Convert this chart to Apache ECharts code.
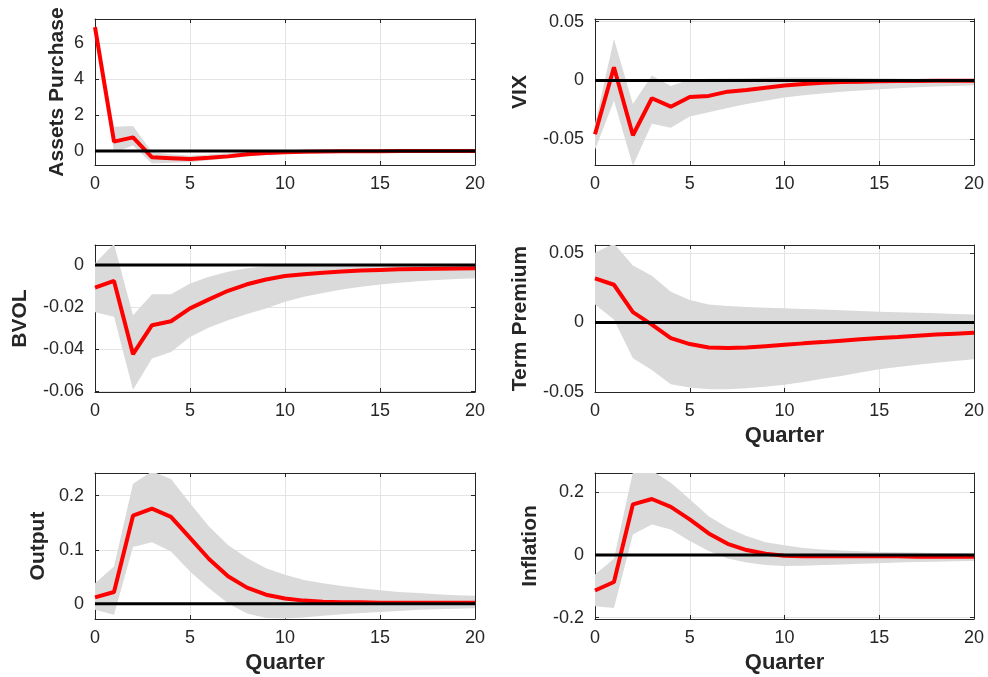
<!DOCTYPE html>
<html>
<head>
<meta charset="utf-8">
<title>Impulse responses</title>
<script src="https://cdn.jsdelivr.net/npm/echarts@6/dist/echarts.min.js"></script>
<style>
  html, body { margin: 0; padding: 0; background: #ffffff; }
  #chart { width: 988px; height: 677px; }
</style>
</head>
<body>
<div id="chart"></div>
<script>
// Horizon (quarters after the shock)
const quarters = [0, 1, 2, 3, 4, 5, 6, 7, 8, 9, 10, 11, 12, 13, 14, 15, 16, 17, 18, 19, 20];

// Assets Purchase: median response and credible band
const assetsMedian = [6.9, 0.52, 0.76, -0.35, -0.40, -0.45, -0.38, -0.30, -0.18, -0.11, -0.07, -0.04, -0.03, -0.02, -0.01, -0.01, 0, 0, 0, 0, 0];
const assetsLower  = [6.85, -0.09, 0.30, -0.69, -0.66, -0.62, -0.52, -0.42, -0.30, -0.22, -0.15, -0.11, -0.08, -0.06, -0.05, -0.04, -0.03, -0.03, -0.02, -0.02, -0.02];
const assetsUpper  = [6.95, 1.35, 1.39, -0.05, -0.18, -0.26, -0.20, -0.13, -0.06, -0.02, 0.01, 0.02, 0.02, 0.02, 0.02, 0.02, 0.02, 0.02, 0.02, 0.02, 0.02];

// VIX
const vixMedian = [-0.0458, 0.0112, -0.0466, -0.0151, -0.0223, -0.0140, -0.0131, -0.0095, -0.0081, -0.0061, -0.0042, -0.0030, -0.0020, -0.0014, -0.0010, -0.0007, -0.0005, -0.0004, -0.0003, -0.0002, -0.0002];
const vixLower  = [-0.059, -0.0173, -0.0725, -0.0369, -0.0402, -0.0307, -0.0271, -0.0235, -0.0201, -0.0173, -0.0145, -0.0125, -0.0110, -0.0095, -0.0085, -0.0075, -0.0066, -0.0058, -0.0051, -0.0046, -0.0041];
const vixUpper  = [-0.037, 0.0352, -0.0201, 0.0042, -0.0047, 0.0008, 0.0014, 0.0017, 0.0020, 0.0024, 0.0026, 0.0026, 0.0025, 0.0023, 0.0021, 0.0019, 0.0017, 0.0015, 0.0013, 0.0011, 0.0010];

// BVOL
const bvolMedian = [-0.0108, -0.0076, -0.0425, -0.0287, -0.0268, -0.0207, -0.0164, -0.0123, -0.0092, -0.0069, -0.0053, -0.0044, -0.0037, -0.0031, -0.0027, -0.0024, -0.0021, -0.0019, -0.0018, -0.0017, -0.0016];
const bvolLower  = [-0.0225, -0.0247, -0.0594, -0.0446, -0.0414, -0.0343, -0.0298, -0.0263, -0.0234, -0.0207, -0.0175, -0.0152, -0.0133, -0.0117, -0.0104, -0.0093, -0.0085, -0.0078, -0.0072, -0.0067, -0.0063];
const bvolUpper  = [0.0008, 0.0100, -0.0239, -0.0139, -0.0139, -0.0088, -0.0056, -0.0032, -0.0016, -0.0006, -0.0002, 0.0000, 0.0002, 0.0003, 0.0003, 0.0003, 0.0003, 0.0003, 0.0002, 0.0002, 0.0002];

// Term Premium
const termMedian = [0.0318, 0.0272, 0.0075, -0.0015, -0.0112, -0.0155, -0.0180, -0.0184, -0.0180, -0.0170, -0.0160, -0.0150, -0.0141, -0.0131, -0.0121, -0.0112, -0.0104, -0.0095, -0.0087, -0.0080, -0.0073];
const termLower  = [0.0130, 0.0022, -0.0257, -0.0342, -0.0444, -0.0468, -0.0480, -0.0480, -0.0473, -0.0462, -0.0447, -0.0428, -0.0405, -0.0385, -0.0360, -0.0337, -0.0320, -0.0303, -0.0290, -0.0277, -0.0265];
const termUpper  = [0.0502, 0.0568, 0.0410, 0.0337, 0.0221, 0.0163, 0.0129, 0.0119, 0.0112, 0.0107, 0.0102, 0.0098, 0.0093, 0.0088, 0.0083, 0.0078, 0.0074, 0.0070, 0.0066, 0.0062, 0.0058];

// Output
const outputMedian = [0.012, 0.022, 0.163, 0.176, 0.161, 0.122, 0.083, 0.051, 0.030, 0.017, 0.010, 0.006, 0.004, 0.003, 0.003, 0.002, 0.002, 0.002, 0.002, 0.002, 0.002];
const outputLower  = [-0.011, -0.020, 0.105, 0.114, 0.097, 0.060, 0.029, 0.001, -0.018, -0.026, -0.027, -0.025, -0.022, -0.019, -0.017, -0.015, -0.013, -0.011, -0.010, -0.009, -0.008];
const outputUpper  = [0.038, 0.069, 0.222, 0.245, 0.231, 0.186, 0.143, 0.109, 0.085, 0.066, 0.054, 0.044, 0.038, 0.033, 0.029, 0.025, 0.022, 0.020, 0.018, 0.016, 0.015];

// Inflation
const inflationMedian = [-0.113, -0.086, 0.162, 0.179, 0.154, 0.114, 0.069, 0.036, 0.016, 0.004, -0.002, -0.004, -0.004, -0.004, -0.004, -0.004, -0.004, -0.005, -0.005, -0.005, -0.005];
const inflationLower  = [-0.163, -0.169, 0.066, 0.098, 0.082, 0.045, 0.013, -0.011, -0.024, -0.032, -0.035, -0.034, -0.032, -0.030, -0.028, -0.026, -0.024, -0.022, -0.021, -0.020, -0.019];
const inflationUpper  = [-0.062, -0.012, 0.265, 0.270, 0.231, 0.178, 0.124, 0.087, 0.061, 0.041, 0.031, 0.023, 0.018, 0.015, 0.012, 0.010, 0.009, 0.008, 0.007, 0.006, 0.005];

// Y tick labels per panel
const assetsTicks = [0, 2, 4, 6];
const vixTicks = [-0.05, 0, 0.05];
const bvolTicks = [-0.06, -0.04, -0.02, 0];
const termTicks = [-0.05, 0, 0.05];
const outputTicks = [0, 0.1, 0.2];
const inflationTicks = [-0.2, 0, 0.2];

const panels = [
  { name: 'Assets Purchase', median: assetsMedian, lower: assetsLower, upper: assetsUpper, ticks: assetsTicks,
    min: -0.78, max: 7.35, left: 95, top: 19, width: 380, height: 146, nameGap: 27, quarter: false },
  { name: 'VIX', median: vixMedian, lower: vixLower, upper: vixUpper, ticks: vixTicks,
    min: -0.0719, max: 0.0523, left: 595, top: 19, width: 379, height: 146, nameGap: 64, quarter: false },
  { name: 'BVOL', median: bvolMedian, lower: bvolLower, upper: bvolUpper, ticks: bvolTicks,
    min: -0.0605, max: 0.0095, left: 95, top: 245, width: 380, height: 147, nameGap: 64, quarter: false },
  { name: 'Term Premium', median: termMedian, lower: termLower, upper: termUpper, ticks: termTicks,
    min: -0.05, max: 0.0558, left: 595, top: 245, width: 379, height: 147, nameGap: 64, quarter: true },
  { name: 'Output', median: outputMedian, lower: outputLower, upper: outputUpper, ticks: outputTicks,
    min: -0.028, max: 0.242, left: 95, top: 473, width: 380, height: 146, nameGap: 46, quarter: true },
  { name: 'Inflation', median: inflationMedian, lower: inflationLower, upper: inflationUpper, ticks: inflationTicks,
    min: -0.204, max: 0.262, left: 595, top: 473, width: 379, height: 146, nameGap: 54, quarter: true }
];

const TEXT = '#262626';
const FONT = '"Liberation Sans", Arial, Helvetica, sans-serif';
const BAND = '#dadada';
const GRIDLINE = '#e3e3e3';

function fmt(v) {
  return String(parseFloat(v.toFixed(4)));
}

const grid = [], xAxis = [], yAxis = [], series = [];

panels.forEach((p, i) => {
  grid.push({ left: p.left, top: p.top, width: p.width, height: p.height, containLabel: false });

  // bottom x axis with labels
  xAxis.push({
    type: 'value', gridIndex: i, min: 0, max: 20, interval: 5,
    name: p.quarter ? 'Quarter' : '', nameLocation: 'middle', nameGap: 33,
    nameTextStyle: { fontFamily: FONT, fontWeight: 'bold', fontSize: 22, color: TEXT },
    axisLine: { show: true, onZero: false, lineStyle: { color: TEXT, width: 1 } },
    axisTick: { show: true, inside: true, length: 4, lineStyle: { color: TEXT } },
    axisLabel: { show: true, margin: 10, fontFamily: FONT, fontSize: 18, color: TEXT, formatter: fmt },
    splitLine: { show: true, lineStyle: { color: GRIDLINE, width: 1 } }
  });
  // top x axis: box edge with ticks
  xAxis.push({
    type: 'value', gridIndex: i, min: 0, max: 20, interval: 5, position: 'top',
    axisLine: { show: true, onZero: false, lineStyle: { color: TEXT, width: 1 } },
    axisTick: { show: true, inside: true, length: 4, lineStyle: { color: TEXT } },
    axisLabel: { show: false }, splitLine: { show: false }
  });
  // left y axis with labels
  yAxis.push({
    type: 'value', gridIndex: i, min: p.min, max: p.max,
    name: p.name, nameLocation: 'middle', nameRotate: 90, nameGap: p.nameGap,
    nameTextStyle: { fontFamily: FONT, fontWeight: 'bold', fontSize: 21, color: TEXT },
    axisLine: { show: true, onZero: false, lineStyle: { color: TEXT, width: 1 } },
    axisTick: { show: true, inside: true, length: 4, lineStyle: { color: TEXT }, customValues: p.ticks },
    axisLabel: { show: true, margin: 11, fontFamily: FONT, fontSize: 18, color: TEXT, customValues: p.ticks, formatter: fmt },
    splitLine: { show: true, lineStyle: { color: GRIDLINE, width: 1 } }
  });
  // right y axis: box edge with ticks
  yAxis.push({
    type: 'value', gridIndex: i, min: p.min, max: p.max, position: 'right',
    axisLine: { show: true, onZero: false, lineStyle: { color: TEXT, width: 1 } },
    axisTick: { show: true, inside: true, length: 4, lineStyle: { color: TEXT }, customValues: p.ticks },
    axisLabel: { show: false, customValues: p.ticks }, splitLine: { show: false }
  });

  const xi = i * 2, yi = i * 2;

  // credible band as one closed polygon: upper edge forward, lower edge back
  series.push({
    type: 'custom', xAxisIndex: xi, yAxisIndex: yi, clip: true, silent: true, z: 1,
    data: [[quarters[0], p.median[0]]],
    renderItem: function (params, api) {
      const pts = [];
      for (let k = 0; k < quarters.length; k++) pts.push(api.coord([quarters[k], p.upper[k]]));
      for (let k = quarters.length - 1; k >= 0; k--) pts.push(api.coord([quarters[k], p.lower[k]]));
      return { type: 'polygon', shape: { points: pts }, style: { fill: BAND, stroke: null } };
    }
  });
  // median response
  series.push({
    type: 'line', xAxisIndex: xi, yAxisIndex: yi,
    data: quarters.map((q, k) => [q, p.median[k]]),
    symbol: 'none', lineStyle: { color: '#ff0000', width: 4 }, z: 3
  });
  // zero reference line
  series.push({
    type: 'line', xAxisIndex: xi, yAxisIndex: yi,
    data: [[quarters[0], 0], [quarters[quarters.length - 1], 0]],
    symbol: 'none', lineStyle: { color: '#000000', width: 3 }, z: 4
  });
});

const chart = echarts.init(document.getElementById('chart'), null, { renderer: 'canvas' });
chart.setOption({
  animation: false,
  backgroundColor: '#ffffff',
  grid, xAxis, yAxis, series
});
</script>
</body>
</html>
